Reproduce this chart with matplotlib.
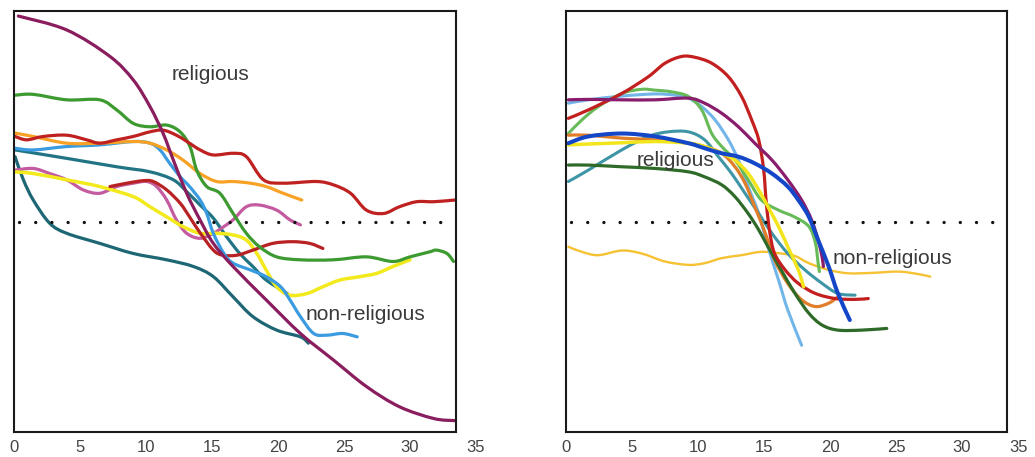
import matplotlib
matplotlib.use("Agg")
import matplotlib.pyplot as plt
from matplotlib.path import Path
from matplotlib.patches import PathPatch

plt.rcParams['font.family'] = ['Liberation Sans', 'DejaVu Sans']

# ---- data (x = age / years, y = relative share, 0..100) ----
THRESHOLD = 50
XTICKS = [0, 5, 10, 15, 20, 25, 30, 35]

# left panel
l_purple_x = [0.33, 3.99, 7.27, 9.04, 10.3, 11.3, 12.07, 13.08, 14.09, 15.1, 16.6, 19.1, 21.7, 24.2, 26.7, 29.2, 31.8, 33.4]
l_purple_y = [98.8, 95.5, 89.2, 83.6, 77.3, 70.9, 64.6, 56.7, 50.4, 44.8, 39.3, 31.4, 23.4, 17.1, 10.8, 6.0, 3.2, 2.7]

l_green_x = [0.08, 1.46, 3.99, 6.5, 7.78, 9.04, 10.3, 11.57, 12.58, 13.33, 13.84, 14.6, 15.6, 16.6, 17.6, 18.6, 19.9, 21.7, 24.2, 26.7, 28.7, 30.0, 31.5, 32.0, 32.8, 33.3]
l_green_y = [80.0, 80.2, 78.9, 78.9, 76.5, 73.3, 72.5, 72.9, 71.3, 67.8, 62.2, 58.3, 56.7, 51.9, 47.2, 44.0, 41.6, 40.9, 40.9, 41.6, 40.5, 41.6, 42.8, 43.2, 42.4, 40.5]

l_red_x = [0.08, 0.96, 2.22, 3.99, 5.5, 6.5, 7.78, 9.04, 10.3, 11.3, 12.3, 13.1, 14.1, 15.1, 16.6, 17.6, 18.9, 20.4, 22.9, 24.2, 25.5, 26.7, 28.0, 29.2, 30.5, 31.8, 33.4]
l_red_y = [70.2, 69.4, 70.2, 70.5, 69.4, 68.6, 69.4, 70.2, 71.3, 71.7, 70.5, 69.0, 67.0, 65.8, 66.2, 65.4, 59.9, 59.1, 59.5, 58.7, 56.7, 52.7, 51.9, 53.5, 54.7, 54.7, 55.1]

l_orange_x = [0.08, 1.46, 3.99, 6.5, 9.04, 10.3, 11.57, 12.8, 14.1, 15.35, 16.6, 17.9, 19.1, 20.4, 21.8]
l_orange_y = [71.0, 70.2, 68.6, 68.6, 69.0, 68.6, 67.0, 64.6, 61.4, 59.5, 59.5, 59.1, 58.3, 56.7, 55.1]

l_blue_x = [0.08, 1.46, 3.99, 6.5, 9.04, 10.3, 11.06, 11.8, 12.6, 13.3, 14.1, 14.6, 15.1, 15.9, 16.6, 17.9, 19.1, 20.2, 20.9, 21.7, 22.7, 23.7, 24.9, 26.0]
l_blue_y = [67.4, 67.0, 67.8, 68.2, 69.0, 68.6, 67.0, 63.8, 60.6, 58.3, 55.1, 51.9, 47.2, 42.4, 40.1, 38.5, 36.9, 34.5, 31.4, 27.4, 23.4, 23.0, 23.4, 22.6]

l_teal1_x = [0.08, 3.99, 7.78, 10.3, 12.07, 13.08, 14.1, 15.1, 16.1, 17.1, 18.1, 19.1, 20.7]
l_teal1_y = [67.0, 65.0, 63.0, 61.8, 59.9, 57.1, 53.9, 50.8, 46.4, 42.4, 39.3, 36.1, 32.9]

l_teal2_x = [0.08, 0.71, 1.46, 2.7, 3.99, 6.5, 9.04, 11.57, 13.6, 15.1, 16.6, 18.1, 19.9, 21.7, 22.3]
l_teal2_y = [65.4, 59.9, 55.1, 49.6, 47.2, 44.8, 42.4, 40.9, 39.3, 36.9, 32.1, 27.4, 24.2, 22.6, 21.1]

l_pink_x = [0.08, 1.46, 2.7, 3.99, 5.25, 6.5, 7.78, 9.04, 10.05, 10.8, 11.57, 12.3, 13.08, 14.1, 15.1, 15.9, 16.6, 17.6, 18.6, 19.9, 20.9, 21.7]
l_pink_y = [62.2, 62.6, 61.4, 59.9, 57.5, 56.7, 58.3, 59.1, 59.5, 58.3, 55.1, 50.4, 47.2, 46.0, 47.2, 48.8, 50.4, 53.5, 53.9, 52.7, 50.4, 49.2]

l_red2_x = [7.27, 8.54, 9.8, 10.55, 11.57, 12.6, 13.3, 14.1, 15.1, 15.8, 16.9, 18.1, 19.6, 21.1, 22.4, 23.4]
l_red2_y = [58.3, 59.1, 59.7, 59.5, 57.5, 54.3, 51.1, 47.3, 43.2, 42.0, 42.0, 43.2, 44.8, 45.2, 44.8, 43.6]

l_yellow_x = [0.08, 1.46, 3.99, 6.5, 9.04, 10.3, 11.57, 12.8, 14.1, 15.35, 16.6, 17.6, 18.4, 19.1, 19.9, 20.9, 22.2, 23.4, 24.7, 26.2, 27.5, 28.7, 30.0]
l_yellow_y = [61.8, 61.4, 59.9, 58.3, 55.9, 53.5, 51.1, 48.8, 47.2, 47.2, 46.8, 45.6, 42.4, 38.5, 34.5, 32.5, 32.9, 34.5, 36.1, 36.9, 37.7, 39.3, 40.9]

# right panel
r_red_x = [0.18, 1.69, 4.22, 6.24, 7.5, 8.76, 9.77, 11.04, 12.3, 13.3, 14.07, 14.6, 14.95, 15.08, 15.2, 15.45, 15.8, 16.6, 17.6, 18.9, 20.4, 21.9, 22.9]
r_red_y = [74.5, 76.5, 80.4, 84.4, 87.6, 89.2, 89.0, 87.6, 84.4, 79.7, 74.1, 69.4, 63.0, 58.3, 53.5, 47.2, 42.4, 38.5, 35.3, 32.9, 31.7, 31.5, 31.7]

r_purple_x = [0.18, 1.69, 4.22, 6.74, 9.27, 10.5, 11.8, 13.06, 14.3, 15.6, 16.8, 17.85, 18.6, 19.1, 19.4, 19.5]
r_purple_y = [78.9, 79.0, 78.9, 78.9, 79.3, 78.1, 75.7, 72.5, 68.6, 64.6, 59.9, 55.1, 50.4, 45.6, 41.6, 39.3]

r_lgreen_x = [0.18, 1.19, 2.45, 4.22, 5.73, 6.74, 8.0, 9.27, 10.28, 11.04, 11.8, 12.8, 13.8, 14.8, 16.1, 17.3, 18.4, 18.9, 19.1, 19.2]
r_lgreen_y = [70.9, 74.1, 77.3, 80.4, 81.4, 81.2, 80.8, 79.7, 76.5, 70.9, 67.8, 64.6, 59.9, 55.1, 52.7, 51.1, 48.8, 44.8, 40.1, 38.1]

r_lblue_x = [0.18, 1.69, 4.22, 6.74, 8.26, 9.27, 10.28, 11.3, 12.3, 13.06, 13.8, 14.6, 15.3, 16.1, 16.8, 17.85]
r_lblue_y = [78.1, 78.9, 79.8, 80.3, 80.0, 79.3, 77.3, 74.1, 69.4, 64.6, 58.3, 51.9, 44.0, 36.1, 29.0, 20.6]

r_teal_x = [0.18, 1.69, 4.22, 6.24, 7.75, 9.27, 10.5, 11.54, 12.55, 13.56, 14.6, 15.6, 16.8, 18.1, 19.4, 20.6, 21.9]
r_teal_y = [59.5, 62.2, 67.0, 70.2, 71.3, 71.3, 69.4, 65.4, 61.4, 56.7, 51.9, 47.2, 42.4, 38.5, 35.3, 32.9, 32.5]

r_orange_x = [0.18, 1.69, 4.22, 6.74, 9.27, 10.5, 11.8, 12.8, 13.56, 14.3, 15.1, 15.8, 16.8, 17.85, 18.9, 19.9, 20.6]
r_orange_y = [70.5, 70.5, 69.8, 69.4, 68.6, 67.8, 66.2, 63.0, 59.1, 53.5, 47.2, 40.9, 35.3, 31.4, 29.8, 30.6, 32.1]

r_blue_x = [0.18, 1.69, 4.22, 6.74, 9.27, 10.5, 11.8, 13.06, 14.3, 15.6, 16.8, 17.6, 18.4, 19.1, 19.9, 20.6, 21.5]
r_blue_y = [68.6, 70.2, 70.9, 70.2, 68.6, 67.4, 66.2, 65.4, 63.8, 61.4, 58.3, 55.1, 51.1, 45.6, 39.3, 32.9, 26.6]

r_yellow_x = [0.18, 1.69, 4.22, 6.74, 9.27, 10.5, 11.8, 12.8, 13.8, 14.6, 15.3, 16.1, 16.8, 17.6, 18.0]
r_yellow_y = [68.2, 68.4, 68.7, 69.0, 68.6, 67.8, 66.2, 64.6, 61.4, 57.5, 53.5, 48.8, 44.0, 38.5, 34.5]

r_dgreen_x = [0.18, 1.69, 4.22, 6.74, 9.27, 10.5, 11.8, 12.8, 13.8, 14.6, 15.3, 16.3, 17.35, 18.4, 19.4, 20.6, 22.4, 24.3]
r_dgreen_y = [63.4, 63.4, 63.0, 62.6, 61.8, 60.6, 58.7, 55.9, 51.9, 48.0, 44.0, 38.5, 32.9, 28.2, 25.4, 24.2, 24.2, 24.6]

r_gold_x = [0.18, 1.19, 2.45, 4.22, 5.73, 7.5, 9.27, 10.5, 11.8, 13.3, 14.8, 16.3, 17.35, 18.4, 19.9, 21.4, 23.2, 25.2, 26.7, 27.6]
r_gold_y = [44.0, 42.8, 42.0, 43.1, 42.4, 40.5, 39.7, 40.1, 41.3, 42.0, 42.8, 42.4, 41.8, 40.1, 38.5, 37.7, 37.8, 38.1, 37.5, 36.9]

left_series = [
    (l_teal2_x, l_teal2_y, '#1d6673', 2.3),
    (l_teal1_x, l_teal1_y, '#217483', 2.3),
    (l_pink_x, l_pink_y, '#c45aa0', 2.3),
    (l_yellow_x, l_yellow_y, '#f2ea1c', 2.5),
    (l_red2_x, l_red2_y, '#b82222', 2.3),
    (l_blue_x, l_blue_y, '#3a9be0', 2.3),
    (l_orange_x, l_orange_y, '#f8a225', 2.3),
    (l_green_x, l_green_y, '#3c9a30', 2.3),
    (l_red_x, l_red_y, '#bf2020', 2.3),
    (l_purple_x, l_purple_y, '#8a1d5e', 2.3),
]

right_series = [
    (r_gold_x, r_gold_y, '#f6c233', 1.7),
    (r_lblue_x, r_lblue_y, '#72b5e8', 2.2),
    (r_teal_x, r_teal_y, '#3d95a6', 2.2),
    (r_lgreen_x, r_lgreen_y, '#66bb58', 2.2),
    (r_orange_x, r_orange_y, '#e07d28', 2.3),
    (r_dgreen_x, r_dgreen_y, '#2f6b28', 2.3),
    (r_red_x, r_red_y, '#c41f1f', 2.3),
    (r_yellow_x, r_yellow_y, '#f3e51c', 2.5),
    (r_purple_x, r_purple_y, '#8a1c6c', 2.3),
    (r_blue_x, r_blue_y, '#1446c8', 2.9),
]

# label positions (data coords)
left_labels = [('religious', 14.85, 84.8), ('non-religious', 26.6, 27.8)]
right_labels = [('religious', 8.3, 64.6), ('non-religious', 24.7, 41.3)]


def smooth_path(xs, ys):
    """Bezier path through the read points (Catmull-Rom style handles)."""
    pts = list(zip(xs, ys))
    verts = [pts[0]]
    codes = [Path.MOVETO]
    n = len(pts)
    for i in range(n - 1):
        p0 = pts[max(i - 1, 0)]
        p1 = pts[i]
        p2 = pts[i + 1]
        p3 = pts[min(i + 2, n - 1)]
        c1 = (p1[0] + (p2[0] - p0[0]) / 6, p1[1] + (p2[1] - p0[1]) / 6)
        c2 = (p2[0] - (p3[0] - p1[0]) / 6, p2[1] - (p3[1] - p1[1]) / 6)
        verts += [c1, c2, p2]
        codes += [Path.CURVE4] * 3
    return Path(verts, codes)


fig = plt.figure(figsize=(10.35, 4.57), dpi=100)
ax_l = fig.add_axes([14 / 1035, 25 / 457, 462 / 1035, 421 / 457])
ax_r = fig.add_axes([566 / 1035, 25 / 457, 462 / 1035, 421 / 457])


def draw_panel(ax, series, labels, frame_right):
    for xs, ys, color, lw in series:
        patch = PathPatch(smooth_path(xs, ys), facecolor='none',
                          edgecolor=color, linewidth=lw,
                          capstyle='round', joinstyle='round')
        ax.add_patch(patch)

    # threshold line, made of dots
    ax.hlines(THRESHOLD, 0.4, frame_right, colors='#111111', linewidth=2.4,
              linestyles=(0, (0.01, 4.85)), capstyle='round')

    for txt, x, y in labels:
        ax.text(x, y, txt, ha='center', va='center', fontsize=15,
                color='#3a3a3a')

    ax.set_xlim(0, 35)
    ax.set_ylim(0, 100)
    ax.set_xticks(XTICKS)
    ax.set_xticklabels([str(t) for t in XTICKS])
    ax.set_yticks([])
    ax.tick_params(axis='x', length=0, pad=6, labelsize=12,
                   labelcolor='#444444')

    ax.spines['right'].set_position(('data', frame_right))
    ax.spines['top'].set_bounds(0, frame_right)
    ax.spines['bottom'].set_bounds(0, frame_right)
    for sp in ax.spines.values():
        sp.set_linewidth(1.5)
        sp.set_color('#1a1a1a')


draw_panel(ax_l, left_series, left_labels, 33.5)
draw_panel(ax_r, right_series, right_labels, 33.4)

# last label of the right panel sits at the figure edge
ax_r.get_xticklabels()[-1].set_horizontalalignment('right')

fig.savefig('out.png', dpi=100)
